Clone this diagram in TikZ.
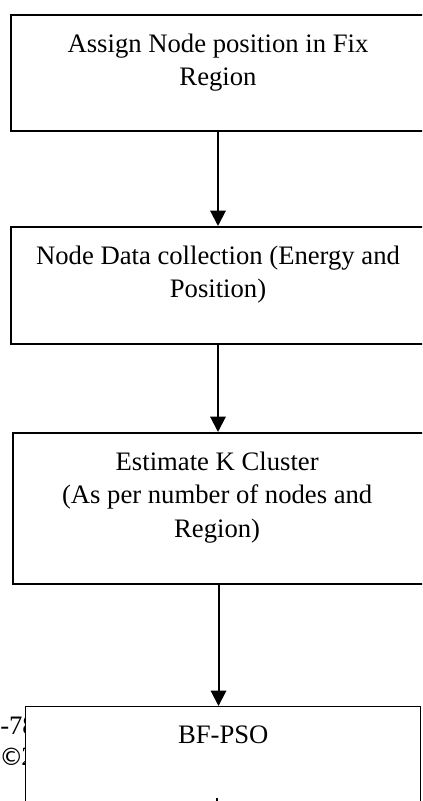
\documentclass[tikz,border=0pt]{standalone}
\usepackage{fontspec}
\setmainfont{Liberation Serif}
\newfontfamily\symbolfont{DejaVu Sans}
\usetikzlibrary{positioning}
\usetikzlibrary{arrows.meta}

\tikzset{
	stage/.style={draw, line width=1.5pt, fill=white, anchor=north west, inner sep=0pt},
	stagetext/.style={align=center, inner sep=0pt, font=\fontsize{20}{25.3}\selectfont},
	flow/.style={line width=1.5pt, -{Triangle[length=11.5pt,width=11.5pt]}},
	margintext/.style={anchor=base west, inner sep=0pt, font=\fontsize{20}{24.5}\selectfont},
}

\begin{document}
\begin{tikzpicture}[x=0.75pt,y=-0.75pt]
	\useasboundingbox (0,0) rectangle (422,801);
	\clip (0,0) rectangle (422,801);

	% page text left of the last box
	\node[margintext] (issn) at (0,734) {-78};
	\node[margintext] (copy) at (-1,765) {{\symbolfont\fontsize{18}{18}\selectfont ©}\kern-1.5pt 2};

	% the four stages
	\node[stage, minimum width=310.5pt, minimum height=87pt] (assign) at (10,14) {};
	\node[stage, minimum width=310.5pt, minimum height=87.75pt] (collect) at (10,226) {};
	\node[stage, minimum width=308.25pt, minimum height=113.25pt] (estimate) at (12,432) {};
	\node[stage, line width=1.1pt, minimum width=296.25pt, minimum height=100.5pt] (bfpso) at (25,706) {};

	\node[stagetext, below=14.5pt of assign.north] (assigntxt) {Assign Node position in Fix\\Region};
	\node[stagetext, below=14.5pt of collect.north] (collecttxt) {Node Data collection (Energy and\\Position)};
	\node[stagetext, below=14.5pt of estimate.north, xshift=-1pt] (estimatetxt) {Estimate K Cluster\\(As per number of nodes and\\Region)};
	\node[stagetext, below=14.5pt of bfpso.north] (bfpsotxt) {BF-PSO};

	% arrows between stages
	\draw[flow] (assign.south) -- (assign.south |- collect.north);
	\draw[flow] (collect.south) -- (collect.south |- estimate.north);
	\draw[flow] (estimate.south) -- (estimate.south |- bfpso.north);

	\fill (216,798) rectangle (218,801);
\end{tikzpicture}
\end{document}
